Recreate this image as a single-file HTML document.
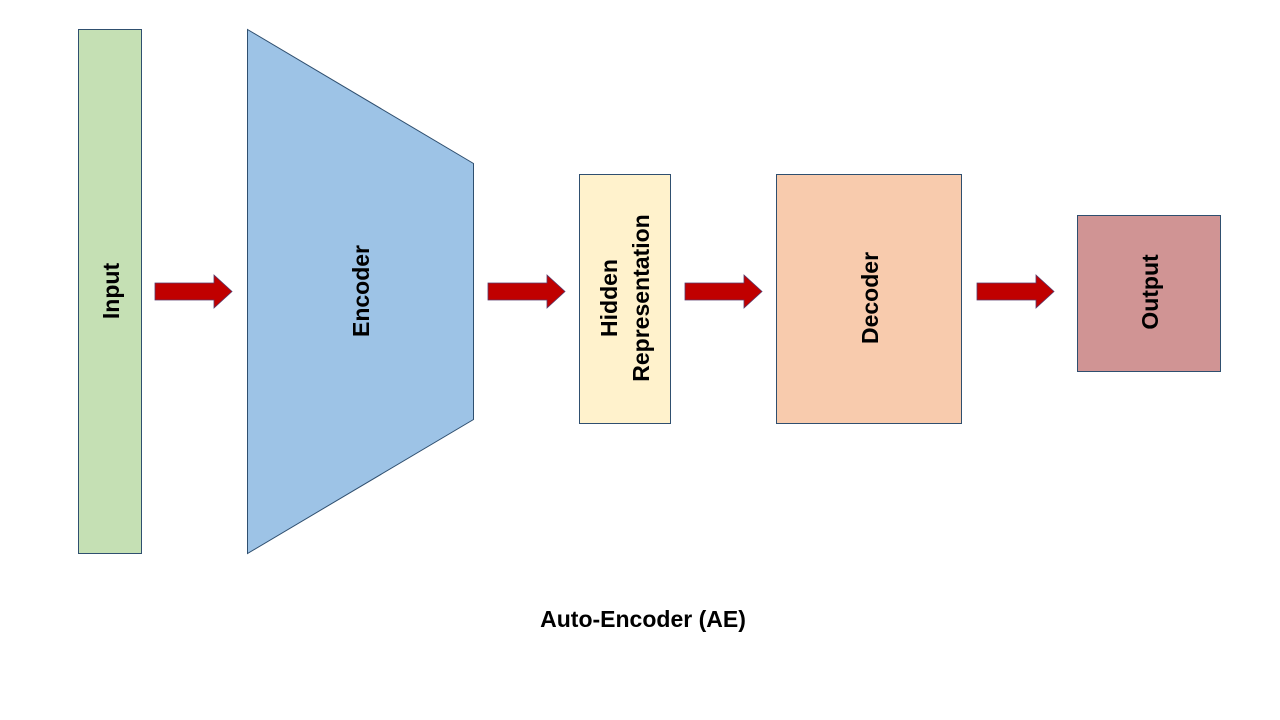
<!DOCTYPE html>
<html><head><meta charset="utf-8"><style>
html,body{margin:0;padding:0;background:#fff;}
svg{display:block;}
text{font-family:"Liberation Sans",sans-serif;font-weight:bold;font-size:23px;fill:#000;}
</style></head><body>
<svg width="1280" height="720" viewBox="0 0 1280 720">
<rect x="78.5" y="29.5" width="63" height="524" fill="#c5e0b4" stroke="#2f4f6f" stroke-width="1"/>
<polygon points="247.5,29.5 473.5,163.5 473.5,419.5 247.5,553.5" fill="#9dc3e6" stroke="#2f4f6f" stroke-width="1"/>
<rect x="579.5" y="174.5" width="91" height="249" fill="#fff2cc" stroke="#2f4f6f" stroke-width="1"/>
<rect x="776.5" y="174.5" width="185" height="249" fill="#f8cbad" stroke="#2f4f6f" stroke-width="1"/>
<rect x="1077.5" y="215.5" width="143" height="156" fill="#d09494" stroke="#2f4f6f" stroke-width="1"/>
<g fill="#c00000" stroke="#5a3a6a" stroke-width="0.8">
<polygon points="155,283 214,283 214,275 232,291.5 214,308 214,300 155,300"/>
<polygon points="488,283 547,283 547,275 565,291.5 547,308 547,300 488,300"/>
<polygon points="685,283 744,283 744,275 762,291.5 744,308 744,300 685,300"/>
<polygon points="977,283 1036,283 1036,275 1054,291.5 1036,308 1036,300 977,300"/>
</g>
<text transform="translate(119,291) rotate(-90)" text-anchor="middle">Input</text>
<text transform="translate(369,291) rotate(-90)" text-anchor="middle">Encoder</text>
<text transform="translate(617,298) rotate(-90)" text-anchor="middle">Hidden</text>
<text transform="translate(649,298) rotate(-90)" text-anchor="middle">Representation</text>
<text transform="translate(878,298) rotate(-90)" text-anchor="middle">Decoder</text>
<text transform="translate(1158,292) rotate(-90)" text-anchor="middle">Output</text>
<text x="643" y="627" text-anchor="middle">Auto-Encoder (AE)</text>
</svg>
</body></html>
